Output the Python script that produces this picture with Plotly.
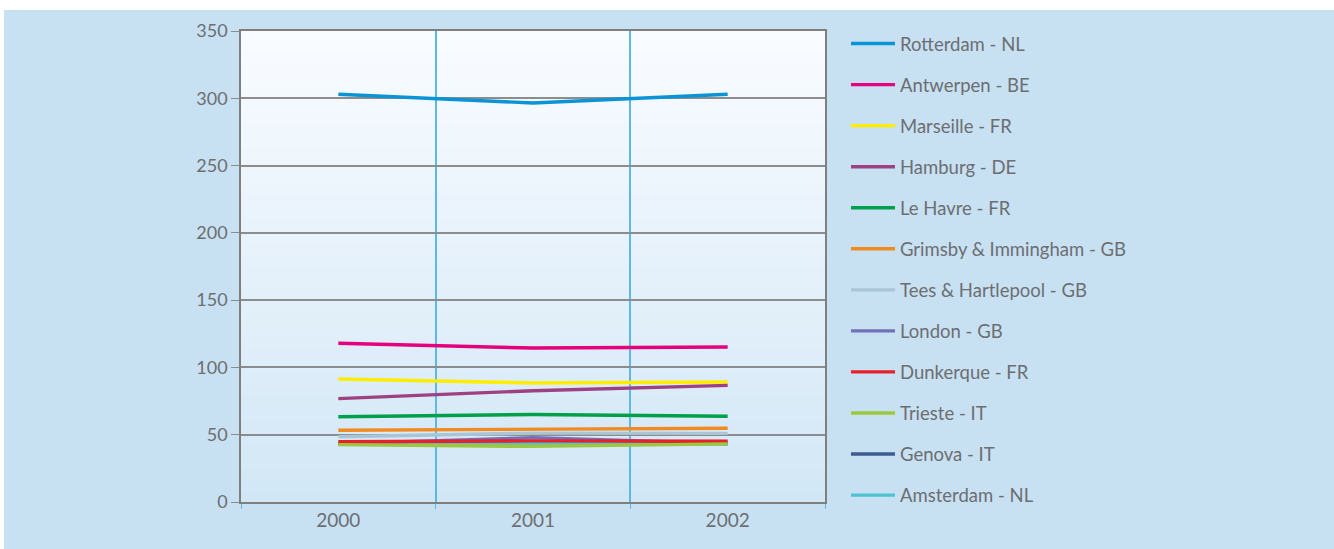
import plotly.graph_objects as go

years = ["2000", "2001", "2002"]

ports = ["Rotterdam - NL", "Antwerpen - BE", "Marseille - FR", "Hamburg - DE",
         "Le Havre - FR", "Grimsby & Immingham - GB", "Tees & Hartlepool - GB",
         "London - GB", "Dunkerque - FR", "Trieste - IT", "Genova - IT", "Amsterdam - NL"]

rotterdam = [303.0, 296.5, 303.0]
antwerpen = [118.0, 114.4, 115.2]
marseille = [91.4, 88.4, 89.2]
hamburg = [76.8, 82.7, 86.7]
le_havre = [63.4, 65.0, 63.7]
grimsby = [53.3, 54.3, 54.8]
tees = [48.5, 51.2, 51.0]
london = [43.3, 47.8, 43.6]
dunkerque = [44.8, 45.4, 45.1]
trieste = [42.6, 41.3, 43.2]
genova = [43.5, 44.5, 43.5]
amsterdam = [43.0, 43.5, 43.0]

values = [rotterdam, antwerpen, marseille, hamburg, le_havre, grimsby, tees,
          london, dunkerque, trieste, genova, amsterdam]

colors = ["#0a93d5", "#e6007e", "#ffed00", "#9e4183", "#00a04b", "#f28a22",
          "#a9c5d6", "#7470b8", "#e8202a", "#9dc83d", "#3e5b92", "#4ec3d0"]

y_ticks = [0, 50, 100, 150, 200, 250, 300, 350]

# drawing order: hidden series first so they lie beneath the others
draw_order = [10, 11, 0, 1, 2, 3, 4, 5, 6, 7, 8, 9]

fig = go.Figure()
for i in draw_order:
    fig.add_trace(go.Scatter(
        x=years, y=values[i], name=ports[i], mode="lines",
        line=dict(color=colors[i], width=3.4),
        legendrank=i + 1, legendgroup=ports[i],
    ))

# background gradient for plot area (decoration)
top = (249, 252, 255)
bot = (210, 231, 246)
n = 40
shapes = []
for k in range(n):
    t = k / (n - 1)
    c = tuple(round(top[j] + (bot[j] - top[j]) * t) for j in range(3))
    shapes.append(dict(type="rect", xref="x domain", yref="y domain",
                       x0=0, x1=1, y0=1 - (k + 1) / n, y1=1 - k / n,
                       fillcolor="rgb(%d,%d,%d)" % c, line=dict(width=0),
                       layer="below"))
# white border at top/left of the page
shapes.append(dict(type="rect", xref="paper", yref="paper",
                   x0=-241 / 584 - 0.05, x1=(4 - 241) / 584, y0=-1, y1=2,
                   fillcolor="white", line=dict(width=0), layer="below"))
shapes.append(dict(type="rect", xref="paper", yref="paper",
                   x0=-1, x1=3, y0=(502 - 10) / 471, y1=1.2,
                   fillcolor="white", line=dict(width=0), layer="below"))

fig.update_layout(
    width=1334, height=549,
    margin=dict(l=241, r=509, t=31, b=47),
    paper_bgcolor="#c7e1f3",
    plot_bgcolor="#e8f3fb",
    font=dict(family="Lato, 'Open Sans', sans-serif", size=16, color="#6d6e71"),
    shapes=shapes,
    showlegend=True,
    legend=dict(
        x=(846 - 241) / 584, xanchor="left", y=(502 - 25) / 471, yanchor="top",
        bgcolor="rgba(0,0,0,0)", font=dict(size=18.5, color="#6d6e71"),
        tracegroupgap=14, traceorder="grouped", itemwidth=44,
        maxheight=540,
    ),
    xaxis=dict(
        type="category", tickson="boundaries", range=[-0.5, 2.5],
        showgrid=True, gridcolor="#5cb9e6", gridwidth=1.5,
        ticks="outside", ticklen=5, tickcolor="#5cb9e6",
        showline=True, linecolor="#7f7f7f", linewidth=1.5, mirror=True,
        tickfont=dict(size=19, color="#6d6e71"),
    ),
    yaxis=dict(
        range=[0, 350], tickvals=y_ticks,
        showgrid=True, gridcolor="#8c8c8c", gridwidth=1.5,
        ticks="outside", ticklen=8, tickcolor="#8c8c8c",
        showline=True, linecolor="#7f7f7f", linewidth=1.5, mirror=True,
        zeroline=False,
        tickfont=dict(size=18, color="#6d6e71"),
    ),
)

fig.write_html("out.html", config={"displayModeBar": False},
               post_script="document.body.style.margin='0';")
